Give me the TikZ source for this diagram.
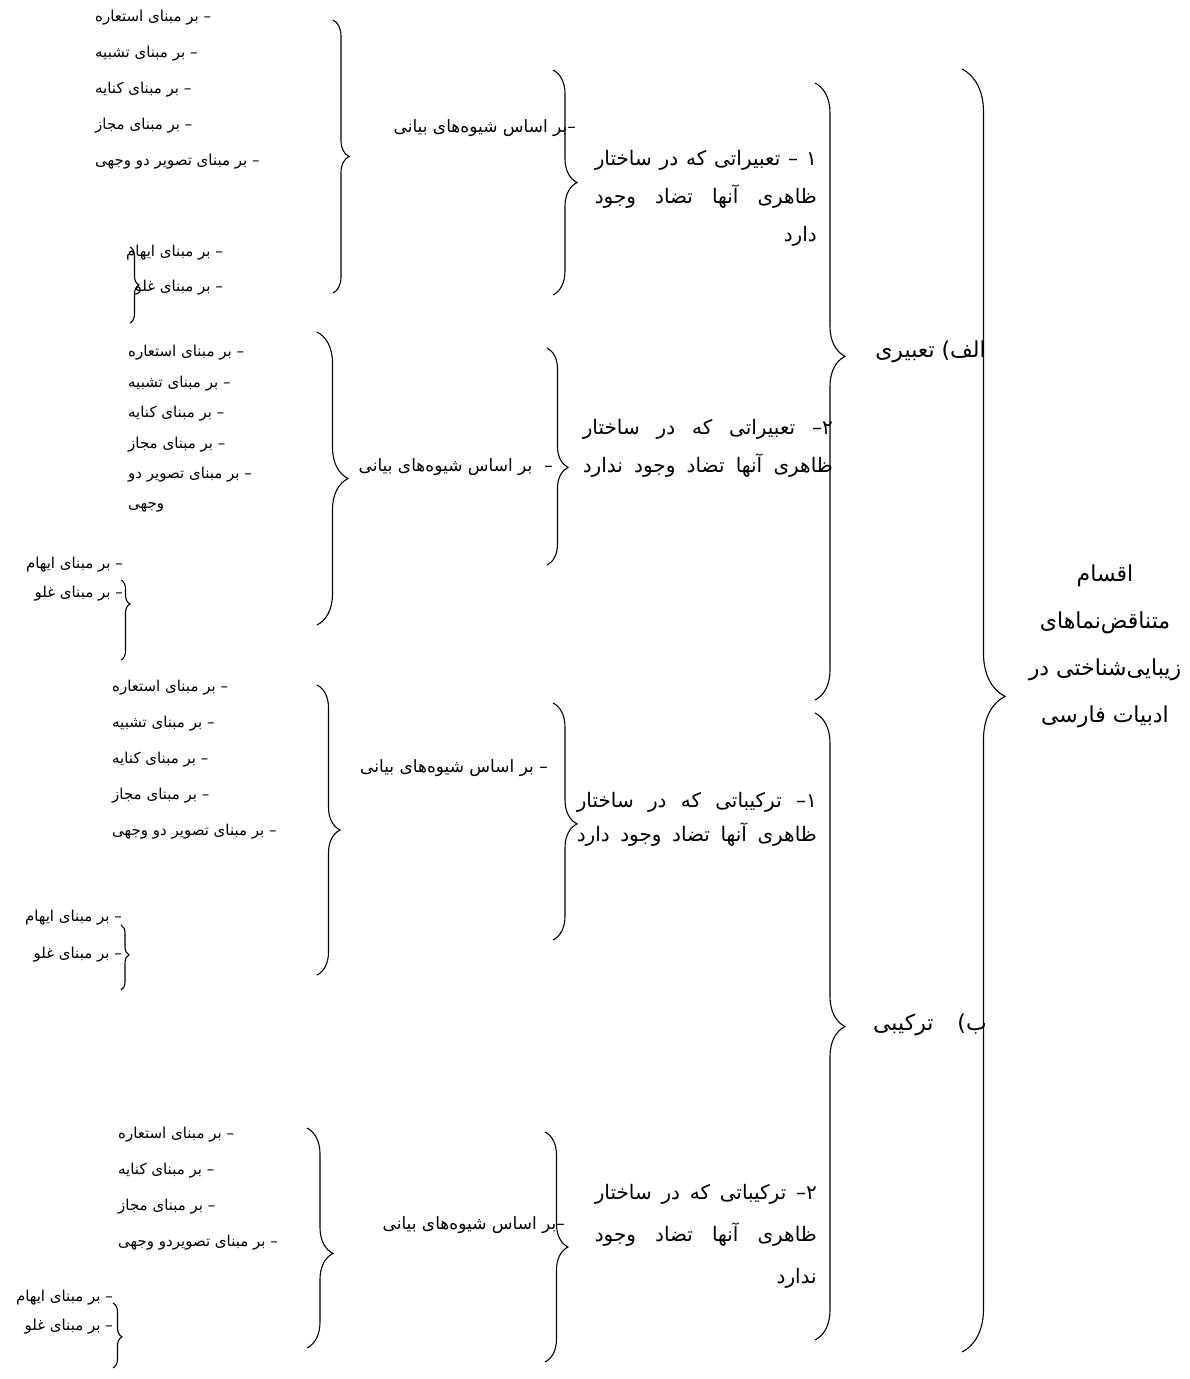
\documentclass[tikz,border=0pt]{standalone}
\usepackage{fontspec}
\newfontfamily\fa[Script=Arabic]{DejaVu Sans}
\TeXXeTstate=1
\usetikzlibrary{decorations.pathreplacing, positioning}
\newcommand{\rl}[1]{\beginR #1\endR} % one right-to-left line
\newcommand{\jline}[2]{\makebox[#1][s]{#2}} % line stretched to a width
\tikzset{
  curly/.style 2 args={decorate, decoration={brace, amplitude=#1,
      aspect=#2}, line width=1.1pt}, % the word-like braces
  items/.style={font=\fa\fontsize{15}{#1}\selectfont, align=left,
    anchor=west, inner sep=0pt}, % lists on the left
  pair/.style={font=\fa\fontsize{15}{#1}\selectfont, align=right,
    anchor=east, inner sep=0pt}, % the two extra entries
  basis/.style={font=\fa\fontsize{17}{20}\selectfont, anchor=east,
    inner sep=0pt},
  block/.style={font=\fa\fontsize{20}{#1}\selectfont, align=right,
    anchor=east, inner sep=0pt},
  head/.style={font=\fa\fontsize{22}{24}\selectfont, anchor=east,
    inner sep=0pt},
}
\begin{document}
\begin{tikzpicture}[x=1pt, y=-1pt]
  \useasboundingbox (0,0) rectangle (1190,1379);

  % title and the two main kinds
  \node[font=\fa\fontsize{22}{47}\selectfont, align=center] (title)
  at (1105,646) {\rl{اقسام}\\\rl{متناقض^^^^200cنماهای}\\
    \rl{زیبایی^^^^200cشناختی در}\\\rl{ادبیات فارسی}};
  \node[head] (kind_a) at (986,352) {\rl{الف) تعبیری}};
  \node[head] (kind_b) at (987,1025) {\rl{ب)\hspace{24pt}ترکیبی}};

  % group 1
  \node[items=36] (items_1) at (95,90) {\rl{– بر مبنای استعاره}\\
    \rl{– بر مبنای تشبیه}\\\rl{– بر مبنای کنایه}\\
    \rl{– بر مبنای مجاز}\\\rl{– بر مبنای تصویر دو وجهی}};
  \node[pair=35] (pair_1) at (223,270) {\rl{– بر مبنای ایهام}\\
    \rl{– بر مبنای غلو}};
  \node[basis] (basis_1) at (576,128) {\rl{–بر اساس شیوه^^^^200cهای بیانی}};
  \node[block=38] (text_1) at (817,198) {%
    \jline{222pt}{\beginR ۱ – تعبیراتی که در ساختار\endR}\\
    \jline{222pt}{\beginR ظاهری آنها تضاد وجود\endR}\\\rl{دارد}};

  % group 2
  \node[items=30.4] (items_2) at (128,429) {\rl{– بر مبنای استعاره}\\
    \rl{– بر مبنای تشبیه}\\\rl{– بر مبنای کنایه}\\
    \rl{– بر مبنای مجاز}\\\rl{– بر مبنای تصویر دو}\\\rl{وجهی}};
  \node[pair=29] (pair_2) at (123,579) {\rl{– بر مبنای ایهام}\\
    \rl{– بر مبنای غلو}};
  \node[basis] (basis_2) at (553,467) {\rl{–\hspace{12pt}بر اساس شیوه^^^^200cهای بیانی}};
  \node[block=38] (text_2) at (833,448) {%
    \jline{250pt}{\beginR ۲– تعبیراتی که در ساختار\endR}\\
    \jline{250pt}{\beginR ظاهری آنها تضاد وجود ندارد\endR}};

  % group 3
  \node[items=36] (items_3) at (112,760) {\rl{– بر مبنای استعاره}\\
    \rl{– بر مبنای تشبیه}\\\rl{– بر مبنای کنایه}\\
    \rl{– بر مبنای مجاز}\\\rl{– بر مبنای تصویر دو وجهی}};
  \node[pair=37] (pair_3) at (122,936) {\rl{– بر مبنای ایهام}\\
    \rl{– بر مبنای غلو}};
  \node[basis] (basis_3) at (548,768) {\rl{– بر اساس شیوه^^^^200cهای بیانی}};
  \node[block=34] (text_3) at (817,819) {%
    \jline{240pt}{\beginR ۱– ترکیباتی که در ساختار\endR}\\
    \jline{240pt}{\beginR ظاهری آنها تضاد وجود دارد\endR}};

  % group 4
  \node[items=36] (items_4) at (118,1189) {\rl{– بر مبنای استعاره}\\
    \rl{– بر مبنای کنایه}\\\rl{– بر مبنای مجاز}\\
    \rl{– بر مبنای تصویردو وجهی}};
  \node[pair=29] (pair_4) at (113,1312) {\rl{– بر مبنای ایهام}\\
    \rl{– بر مبنای غلو}};
  \node[basis] (basis_4) at (565,1225) {\rl{–بر اساس شیوه^^^^200cهای بیانی}};
  \node[block=42] (text_4) at (817,1236) {%
    \jline{222pt}{\beginR ۲– ترکیباتی که در ساختار\endR}\\
    \jline{222pt}{\beginR ظاهری آنها تضاد وجود\endR}\\\rl{ندارد}};

  % brace ends
  \coordinate (outer_top) at (962,69);
  \coordinate (outer_bot) at (962,1352);
  \coordinate (kind_a_top) at (815,83);
  \coordinate (kind_a_bot) at (815,700);
  \coordinate (kind_b_top) at (815,713);
  \coordinate (kind_b_bot) at (815,1340);
  \coordinate (items_1_top) at (333,20);
  \coordinate (items_1_bot) at (333,293);
  \coordinate (basis_1_top) at (553,70);
  \coordinate (basis_1_bot) at (553,295);
  \coordinate (pair_1_top) at (130,247);
  \coordinate (pair_1_bot) at (130,323);
  \coordinate (items_2_top) at (317,332);
  \coordinate (items_2_bot) at (317,625);
  \coordinate (basis_2_top) at (547,348);
  \coordinate (basis_2_bot) at (547,565);
  \coordinate (pair_2_top) at (121,580);
  \coordinate (pair_2_bot) at (121,660);
  \coordinate (items_3_top) at (317,685);
  \coordinate (items_3_bot) at (317,975);
  \coordinate (basis_3_top) at (553,703);
  \coordinate (basis_3_bot) at (553,940);
  \coordinate (pair_3_top) at (121,925);
  \coordinate (pair_3_bot) at (121,990);
  \coordinate (items_4_top) at (307,1128);
  \coordinate (items_4_bot) at (307,1348);
  \coordinate (basis_4_top) at (545,1132);
  \coordinate (basis_4_bot) at (545,1362);
  \coordinate (pair_4_top) at (113,1303);
  \coordinate (pair_4_bot) at (113,1368);

  \draw[curly={43}{0.489}] (outer_top) -- (outer_bot);
  \draw[curly={30}{0.443}] (kind_a_top) -- (kind_a_bot);
  \draw[curly={30}{0.5}] (kind_b_top) -- (kind_b_bot);
  \draw[curly={16}{0.5}] (items_1_top) -- (items_1_bot);
  \draw[curly={24}{0.5}] (basis_1_top) -- (basis_1_bot);
  \draw[curly={9}{0.5}] (pair_1_top) -- (pair_1_bot);
  \draw[curly={31}{0.5}] (items_2_top) -- (items_2_bot);
  \draw[curly={21}{0.55}] (basis_2_top) -- (basis_2_bot);
  \draw[curly={9}{0.3}] (pair_2_top) -- (pair_2_bot);
  \draw[curly={23}{0.5}] (items_3_top) -- (items_3_bot);
  \draw[curly={24}{0.51}] (basis_3_top) -- (basis_3_bot);
  \draw[curly={8}{0.46}] (pair_3_top) -- (pair_3_bot);
  \draw[curly={26}{0.57}] (items_4_top) -- (items_4_bot);
  \draw[curly={23}{0.5}] (basis_4_top) -- (basis_4_bot);
  \draw[curly={9}{0.52}] (pair_4_top) -- (pair_4_bot);
\end{tikzpicture}
\end{document}
